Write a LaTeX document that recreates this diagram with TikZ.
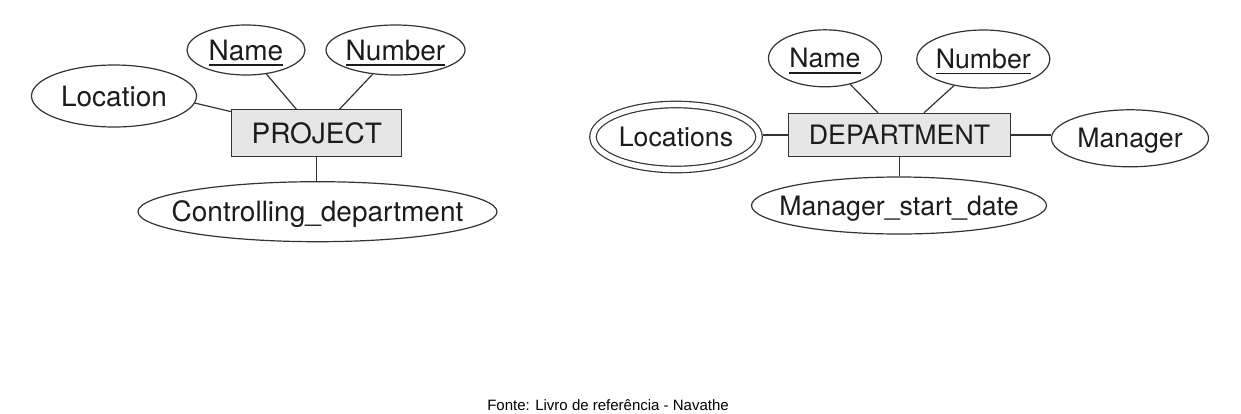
\documentclass[tikz,border=0pt]{standalone}
\usepackage{fontspec}
\setmainfont{TeX Gyre Heros}
\newfontfamily\capfont{Liberation Sans}
\usetikzlibrary{shapes.geometric,calc}
\definecolor{ink}{HTML}{1C1C1C}
\definecolor{edge}{HTML}{333333}
\definecolor{boxfill}{HTML}{E6E6E6}
\newcommand{\keyul}[1]{\setbox0\hbox{#1}\rlap{\rule[-5.8pt]{\wd0}{1.4pt}}\box0}
\newcommand{\wide}[1]{\makebox[0pt][c]{#1}}
\begin{document}
\begin{tikzpicture}[x=1pt,y=-1pt,
  attr/.style={ellipse, draw=edge, line width=1.2pt, fill=white, inner sep=0pt, text=ink, text depth=0pt},
  ent/.style={rectangle, draw=edge, line width=1.3pt, fill=boxfill, inner sep=0pt, text=ink, text depth=0pt},
  link/.style={draw=edge, line width=1.2pt},
  pf/.style={font=\fontsize{28}{30}\selectfont, text height=20.1pt},
  df/.style={font=\fontsize{26.7}{29}\selectfont, text height=19.2pt}]
\useasboundingbox (0,0) rectangle (1241,413);

% PROJECT
\node[attr,pf,minimum width=118pt,minimum height=50pt] (pname) at (246,50) {\wide{\keyul{Name}}};
\node[attr,pf,minimum width=139pt,minimum height=50pt] (pnum) at (395.5,50) {\wide{\keyul{Number}}};
\node[attr,pf,minimum width=165pt,minimum height=62pt] (ploc) at (114,96) {\wide{Location}};
\node[ent,pf,minimum width=170pt,minimum height=47pt] (proj) at (316.8,133.3) {PROJECT};
\node[attr,pf,minimum width=359pt,minimum height=60pt] (pctrl) at (317.5,211.7) {\wide{Controlling\_department}};

\draw[link] (pname) -- (proj);
\draw[link] (pnum) -- (proj);
\draw[link] (ploc.-5) -- ($(proj.north west)+(0,2.5)$);
\draw[link] (proj.south) -- (proj.south |- pctrl.north);

% DEPARTMENT
\node[attr,df,minimum width=113pt,minimum height=57pt] (dname) at (825,58.3) {\wide{\keyul{Name}}};
\node[attr,df,minimum width=133pt,minimum height=58pt] (dnum) at (983.3,59) {\wide{\keyul{Number}}};
\node[ent,df,minimum width=222pt,minimum height=43pt] (dept) at (899.5,135) {DEPARTMENT};
\node[attr,df,double,double distance=5.3pt,minimum width=166pt,minimum height=65pt] (dloc) at (676,137) {\wide{Locations}};
\node[attr,df,minimum width=157pt,minimum height=57pt] (dmgr) at (1130,138.3) {\wide{Manager}};
\node[attr,df,minimum width=295pt,minimum height=57pt] (dmsd) at (899,205.5) {\wide{Manager\_start\_date}};

\draw[link] (dname) -- (dept);
\draw[link] (dnum) -- (dept);
\draw[link,shorten >=3.2pt] (dept.west) -- (dept.west -| dloc.east);
\draw[link] (dept.east) -- (dept.east -| dmgr.west);
\draw[link] (dept.south) -- (dept.south |- dmsd.north);

% caption
\node[font=\capfont\fontsize{15}{17}\selectfont, text=black, anchor=base, inner sep=0pt] (cap) at (608,410) {Fonte: Livro de referência - Navathe};
\end{tikzpicture}
\end{document}
